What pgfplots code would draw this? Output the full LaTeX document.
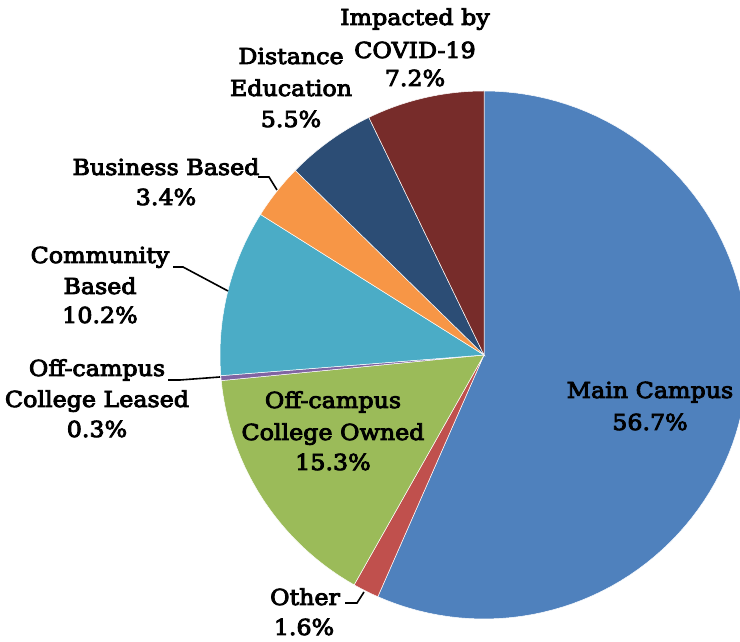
\documentclass[border=0pt]{standalone}
\usepackage{pgfplots}
\usepackage{pgfplotstable}
\pgfplotsset{compat=1.18}
\usepackage{fontspec}
\setmainfont{DejaVu Serif}[FakeStretch=1.08,FakeBold=4]
\definecolor{cMain}{HTML}{4F81BD}
\definecolor{cOther}{HTML}{C0504D}
\definecolor{cOwned}{HTML}{9BBB59}
\definecolor{cLeased}{HTML}{8064A2}
\definecolor{cComm}{HTML}{4BACC6}
\definecolor{cBus}{HTML}{F79646}
\definecolor{cDist}{HTML}{2C4D75}
\definecolor{cCovid}{HTML}{772C2A}
\pgfplotstableread{
value color
56.7 cMain
1.6 cOther
15.3 cOwned
0.3 cLeased
10.2 cComm
3.4 cBus
5.5 cDist
7.2 cCovid
}\piedata
\newcommand{\lbl}[3]{\node[anchor=base,inner sep=0pt] at (axis cs:#1,#2) {#3};}
\begin{document}
\begin{tikzpicture}
\fontsize{22}{31}\selectfont
\begin{axis}[
  width=740pt, height=642pt, scale only axis,
  xmin=0, xmax=740, ymin=0, ymax=642,
  hide axis, clip=true,
]
\def\total{100.2}
\def\cum{0}
\pgfplotsforeachungrouped \i in {0,...,7}{%
  \pgfplotstablegetelem{\i}{value}\of\piedata \let\vv\pgfplotsretval
  \pgfplotstablegetelem{\i}{color}\of\piedata \let\cc\pgfplotsretval
  \pgfmathsetmacro{\aa}{90-\cum/\total*360}%
  \pgfmathsetmacro{\cumn}{\cum+\vv}%
  \pgfmathsetmacro{\bb}{90-\cumn/\total*360}%
  \edef\temp{\noexpand\addplot[fill=\cc, draw=white, line width=0.5pt, domain=\bb:\aa, samples=90, variable=\noexpand\tt] ({484+264*cos(\noexpand\tt)},{287+264*sin(\noexpand\tt)}) -- (axis cs:484,287) -- cycle;}%
  \temp
  \let\cum\cumn
}
% leader lines
\addplot[black, line width=1.6pt, no marks] coordinates {(258,465) (269,465) (277,452)};
\addplot[black, line width=1.6pt, no marks] coordinates {(173,375) (183,375) (228,351)};
\addplot[black, line width=1.6pt, no marks] coordinates {(168,262) (180,262) (220,265)};
\addplot[black, line width=1.6pt, no marks] coordinates {(345,39) (357,39) (364,50)};
% labels
\lbl{415}{617}{Impacted by}
\lbl{415}{584}{COVID-19}
\lbl{415}{556}{7.2\%}
\lbl{291}{578}{Distance}
\lbl{291}{546}{Education}
\lbl{291}{515}{5.5\%}
\lbl{166}{467}{Business Based}
\lbl{166}{437}{3.4\%}
\lbl{100}{379}{Community}
\lbl{100}{348}{Based}
\lbl{100}{319}{10.2\%}
\lbl{97}{266}{Off-campus}
\lbl{97}{235}{College Leased}
\lbl{97}{205}{0.3\%}
\lbl{333}{234}{Off-campus}
\lbl{333}{202}{College Owned}
\lbl{333}{172}{15.3\%}
\lbl{650}{244}{Main Campus}
\lbl{650}{212}{56.7\%}
\lbl{305}{37}{Other}
\lbl{304}{7}{1.6\%}
\end{axis}
\pgfresetboundingbox
\path[use as bounding box] (current axis.south west) rectangle (current axis.north east);
\end{tikzpicture}
\end{document}
